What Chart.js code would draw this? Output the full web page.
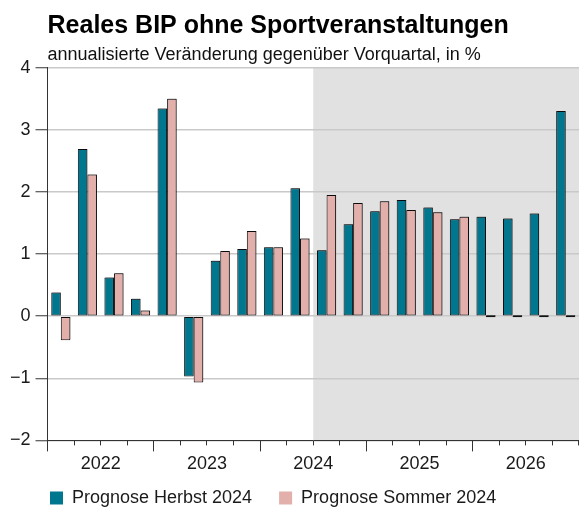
<!DOCTYPE html>
<html>
<head>
<meta charset="utf-8">
<script src="https://cdn.jsdelivr.net/npm/chart.js@4/dist/chart.umd.min.js"></script>
<style>
    html, body { margin: 0; padding: 0; background: #ffffff; }
    #wrap { position: relative; width: 579px; height: 508px; }
</style>
</head>
<body>
<div id="wrap"><canvas id="bipChart"></canvas></div>
<script>
const quarters = [
    "2022Q1", "2022Q2", "2022Q3", "2022Q4",
    "2023Q1", "2023Q2", "2023Q3", "2023Q4",
    "2024Q1", "2024Q2", "2024Q3", "2024Q4",
    "2025Q1", "2025Q2", "2025Q3", "2025Q4",
    "2026Q1", "2026Q2", "2026Q3", "2026Q4"
];
const years = ["2022", "2023", "2024", "2025", "2026"];

const herbst2024 = [0.38, 2.69, 0.62, 0.28, 3.34, -0.97, 0.89, 1.08, 1.11, 2.06, 1.06, 1.48, 1.69, 1.87, 1.75, 1.56, 1.60, 1.57, 1.65, 3.30];
const sommer2024 = [-0.39, 2.28, 0.69, 0.09, 3.50, -1.07, 1.05, 1.37, 1.11, 1.25, 1.95, 1.82, 1.85, 1.71, 1.67, 1.60, 0, 0, 0, 0];

const yMin = -2;
const yMax = 4;
const yStep = 1;

// Prognosezeitraum (grau hinterlegt)
const forecastStart = "2024Q3";

const FONT = "'Liberation Sans', Arial, Helvetica, sans-serif";
Chart.defaults.font.family = FONT;
Chart.defaults.color = "#1a1a1a";

const forecastShade = {
    id: "forecastShade",
    beforeDraw(chart) {
        const { ctx, chartArea, scales } = chart;
        const x = scales.x;
        const i = quarters.indexOf(forecastStart);
        const left = (x.getPixelForValue(i - 1) + x.getPixelForValue(i)) / 2;
        ctx.save();
        ctx.fillStyle = "#e1e1e1";
        ctx.fillRect(left, chartArea.top, chartArea.right - left, chartArea.bottom - chartArea.top);
        ctx.restore();
    }
};

const barShadow = {
    id: "barShadow",
    beforeDatasetsDraw(chart) {
        const ctx = chart.ctx;
        ctx.save();
        ctx.shadowColor = "rgba(0, 0, 0, 0.35)";
        ctx.shadowOffsetX = 1;
        ctx.shadowOffsetY = -1;
        ctx.shadowBlur = 0;
    },
    afterDatasetsDraw(chart) {
        chart.ctx.restore();
    }
};

// Legende unter die Jahreszahlen setzen, erster Eintrag bündig mit der Achse
const legendPlacement = {
    id: "legendPlacement",
    afterLayout(chart) {
        const legend = chart.legend;
        legend.left = 23;
        legend.top = 462;
        legend.bottom = chart.height;
    }
};

new Chart(document.getElementById("bipChart"), {
    type: "bar",
    data: {
        labels: quarters,
        datasets: [
            {
                label: "Prognose Herbst 2024",
                data: herbst2024,
                backgroundColor: "#00778f",
                borderColor: "#111111",
                borderWidth: 1,
                borderSkipped: false,
                minBarLength: 2,
                barPercentage: 1.0,
                categoryPercentage: 0.72
            },
            {
                label: "Prognose Sommer 2024",
                data: sommer2024,
                backgroundColor: "#e2afab",
                borderColor: "#111111",
                borderWidth: 1,
                borderSkipped: false,
                minBarLength: 2,
                barPercentage: 1.0,
                categoryPercentage: 0.72
            }
        ]
    },
    options: {
        responsive: true,
        maintainAspectRatio: false,
        animation: false,
        layout: {
            padding: { left: 5, right: 0, top: 0, bottom: 0 }
        },
        plugins: {
            title: {
                display: true,
                text: "Reales BIP ohne Sportveranstaltungen",
                align: "start",
                fullSize: false,
                color: "#000000",
                font: { size: 25, weight: "bold" },
                padding: { top: 11, bottom: 0 }
            },
            subtitle: {
                display: true,
                text: "annualisierte Veränderung gegenüber Vorquartal, in %",
                align: "start",
                fullSize: false,
                color: "#111111",
                font: { size: 18 },
                padding: { top: 3, bottom: 2 }
            },
            legend: {
                position: "bottom",
                align: "start",
                maxHeight: 31,
                labels: {
                    color: "#1a1a1a",
                    boxWidth: 13,
                    boxHeight: 13,
                    padding: 27,
                    font: { size: 18 },
                    generateLabels(chart) {
                        return Chart.defaults.plugins.legend.labels.generateLabels(chart)
                            .map(item => ({ ...item, lineWidth: 0 }));
                    }
                }
            },
            tooltip: { enabled: false }
        },
        scales: {
            y: {
                min: yMin,
                max: yMax,
                ticks: {
                    stepSize: yStep,
                    color: "#1a1a1a",
                    padding: 5,
                    font: { size: 18 },
                    callback: function(value) {
                        return value < 0 ? "\u2212" + Math.abs(value) : String(value);
                    }
                },
                grid: {
                    color: "#c9c9c9",
                    lineWidth: 1.5,
                    tickColor: "#333333",
                    tickWidth: 1,
                    tickLength: 12
                },
                border: { display: true, color: "#333333", width: 1 }
            },
            x: {
                ticks: { display: false },
                grid: {
                    offset: true,
                    drawOnChartArea: false,
                    tickColor: "#333333",
                    tickLength: 5
                },
                border: { display: true, color: "#333333", width: 1 }
            },
            x2: {
                type: "category",
                labels: years,
                position: "bottom",
                weight: 1,
                offset: true,
                ticks: {
                    color: "#1a1a1a",
                    padding: 2,
                    font: { size: 18 }
                },
                grid: {
                    offset: true,
                    drawOnChartArea: false,
                    tickColor: "#333333",
                    tickLength: 6
                },
                border: { display: false }
            }
        }
    },
    plugins: [forecastShade, barShadow, legendPlacement]
});
</script>
</body>
</html>
